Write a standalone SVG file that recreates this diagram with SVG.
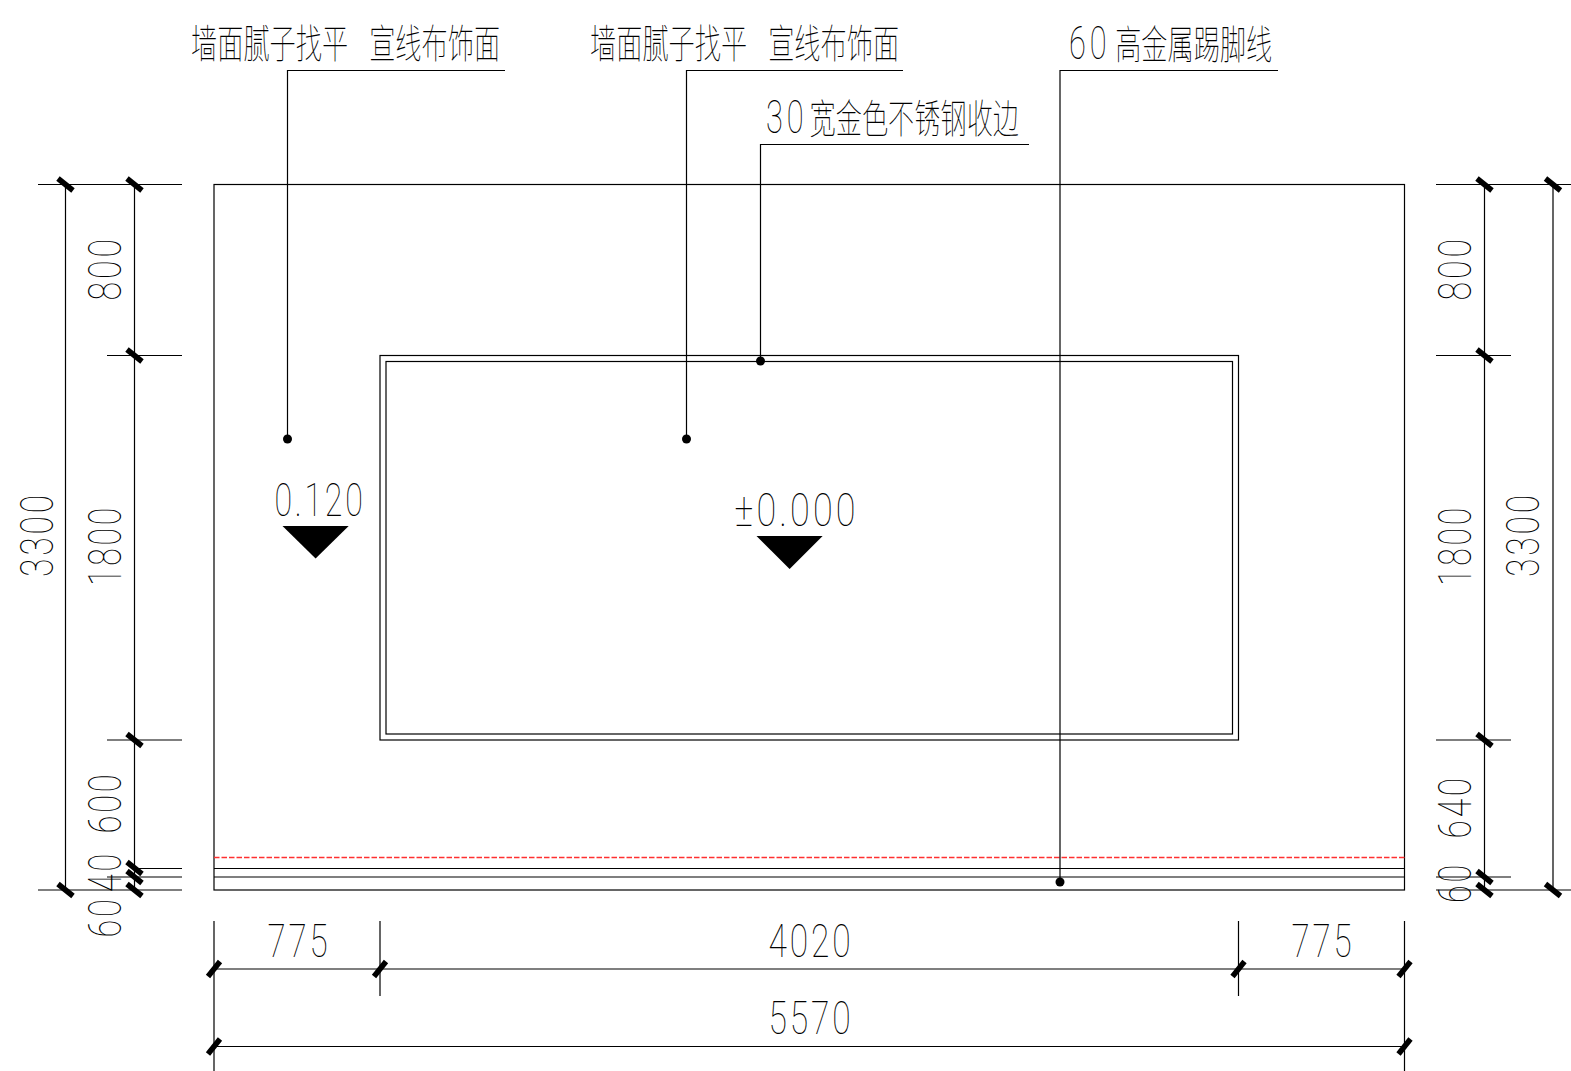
<svg xmlns="http://www.w3.org/2000/svg" width="1571" height="1071" viewBox="0 0 1571 1071">
<style>
.l{fill:none;stroke:#000;stroke-width:1.2}
.r{fill:none;stroke:#ff3030;stroke-width:1.3;stroke-dasharray:5.5 2}
.t{font-family:"Noto Sans CJK SC","Noto Sans",sans-serif;font-size:40px;font-weight:100;fill:#000}
.n{font-family:Roboto,"Liberation Sans",sans-serif;font-size:47px;font-weight:100;fill:#000;letter-spacing:4px}
.d{font-family:Roboto,"Liberation Sans",sans-serif;font-size:47px;font-weight:100;letter-spacing:6px}
</style>
<defs>
<line id="tv" x1="-7.5" y1="-6" x2="7.5" y2="6" stroke="#000" stroke-width="5.5"/>
<line id="th" x1="-6" y1="7.5" x2="6" y2="-7.5" stroke="#000" stroke-width="5.5"/>
</defs>
<rect width="1571" height="1071" fill="#fff"/>
<g id="wall">
<rect class="l" x="214" y="184.5" width="1190.5" height="705.5"/>
<rect class="l" x="380" y="355.5" width="858.5" height="384.5"/>
<rect class="l" x="386" y="361.5" width="846.5" height="372.5"/>
<path class="r" d="M214 857.5H1404.5"/>
<path class="l" d="M214 868.5H1404.5M214 877H1404.5"/>
</g>
<g id="connectors">
<path class="l" d="M505 70.5H287.5V439"/>
<path class="l" d="M903 70.5H686.5V439"/>
<path class="l" d="M1029 144.5H760.5V361"/>
<path class="l" d="M1278 70.5H1060V882"/>
<circle cx="287.5" cy="439" r="4.5"/>
<circle cx="686.5" cy="439" r="4.5"/>
<circle cx="760.5" cy="361" r="4.5"/>
<circle cx="1060" cy="882" r="4.5"/>
</g>
<g id="dim-left">
<path class="l" d="M38 184.5H182M107 355.5H182M107 740H182M134 868.5H182M107 877H182M38 890H182M65.5 184.5V890M134.5 184.5V890"/>
<use href="#tv" x="65.5" y="184.5"/><use href="#tv" x="65.5" y="890"/>
<use href="#tv" x="134.5" y="184.5"/><use href="#tv" x="134.5" y="355.5"/><use href="#tv" x="134.5" y="740"/><use href="#tv" x="134.5" y="868"/><use href="#tv" x="134.5" y="877"/><use href="#tv" x="134.5" y="890"/>
<text class="n" transform="translate(52.5 577) rotate(-90)" textLength="85" lengthAdjust="spacingAndGlyphs">3300</text>
<text class="n" transform="translate(121 300.5) rotate(-90)" textLength="64.5" lengthAdjust="spacingAndGlyphs">800</text>
<text class="n" transform="translate(121 586) rotate(-90)" textLength="81" lengthAdjust="spacingAndGlyphs">1800</text>
<text class="n" transform="translate(121 833.5) rotate(-90)" textLength="62" lengthAdjust="spacingAndGlyphs">600</text>
<text class="n" transform="translate(121 892) rotate(-90)" textLength="41" lengthAdjust="spacingAndGlyphs">40</text>
<text class="n" transform="translate(121 937.5) rotate(-90)" textLength="41" lengthAdjust="spacingAndGlyphs">60</text>
</g>
<g id="dim-right">
<path class="l" d="M1436 184.5H1571M1436 355.5H1511M1436 740H1511M1436 877H1511M1436 890H1571M1484.5 184.5V890M1553 184.5V890"/>
<use href="#tv" x="1484.5" y="184.5"/><use href="#tv" x="1484.5" y="355.5"/><use href="#tv" x="1484.5" y="740"/><use href="#tv" x="1484.5" y="877"/><use href="#tv" x="1484.5" y="890"/>
<use href="#tv" x="1553" y="184.5"/><use href="#tv" x="1553" y="890"/>
<text class="n" transform="translate(1471 300.5) rotate(-90)" textLength="64.5" lengthAdjust="spacingAndGlyphs">800</text>
<text class="n" transform="translate(1471 586) rotate(-90)" textLength="81" lengthAdjust="spacingAndGlyphs">1800</text>
<text class="n" transform="translate(1471 838.5) rotate(-90)" textLength="63.5" lengthAdjust="spacingAndGlyphs">640</text>
<text class="n" transform="translate(1471 903) rotate(-90)" textLength="41" lengthAdjust="spacingAndGlyphs">60</text>
<text class="n" transform="translate(1539 577) rotate(-90)" textLength="85" lengthAdjust="spacingAndGlyphs">3300</text>
</g>
<g id="dim-bottom">
<path class="l" d="M214 921V1071M380 921V996M1238.5 921V996M1404.5 921V1071M214 969H1404.5M214 1046.5H1404.5"/>
<use href="#th" x="214" y="969"/><use href="#th" x="380" y="969"/><use href="#th" x="1238.5" y="969"/><use href="#th" x="1404.5" y="969"/>
<use href="#th" x="214" y="1046.5"/><use href="#th" x="1404.5" y="1046.5"/>
<text class="n" x="267.5" y="956.5" textLength="63" lengthAdjust="spacingAndGlyphs">775</text>
<text class="n" x="768.5" y="956.5" textLength="85" lengthAdjust="spacingAndGlyphs">4020</text>
<text class="n" x="1291.5" y="956.5" textLength="63" lengthAdjust="spacingAndGlyphs">775</text>
<text class="n" x="768.5" y="1034" textLength="85" lengthAdjust="spacingAndGlyphs">5570</text>
</g>
<g id="level-wall">
<text class="n" x="274.5" y="516" textLength="91" lengthAdjust="spacingAndGlyphs">0.120</text>
<polygon points="282.5,526 348.7,526 315.6,558.5"/>
</g>
<g id="level-panel">
<text class="n" x="734.5" y="526" textLength="124" lengthAdjust="spacingAndGlyphs">±0.000</text>
<polygon points="756.5,536 822.6,536 789.6,569"/>
</g>
<g id="label-1"><text class="t" transform="translate(191 58) scale(.655 1)" xml:space="preserve">墙面腻子找平  <tspan x="272">宣线布饰面</tspan></text></g>
<g id="label-2"><text class="t" transform="translate(590 58) scale(.655 1)" xml:space="preserve">墙面腻子找平  <tspan x="272">宣线布饰面</tspan></text></g>
<g id="label-3"><text class="t" transform="translate(766 132.5) scale(.655 1)"><tspan class="d">30</tspan><tspan x="66.5">宽金色不锈钢收边</tspan></text></g>
<g id="label-4"><text class="t" transform="translate(1069 59) scale(.655 1)"><tspan class="d">60</tspan><tspan x="70.5">高金属踢脚线</tspan></text></g>
</svg>
